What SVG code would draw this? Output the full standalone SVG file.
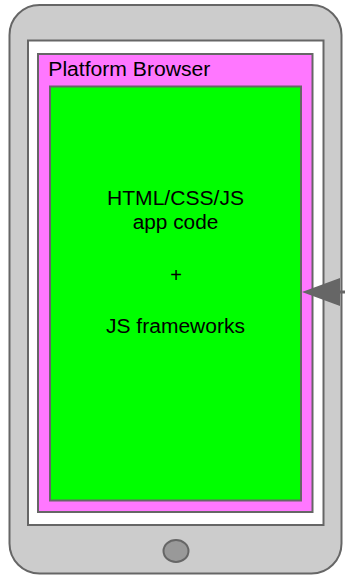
<svg xmlns="http://www.w3.org/2000/svg" width="345" height="576" viewBox="0 0 345 576">
  <style>
    .frame { stroke: #666666; stroke-width: 2; }
    .label { font-family: "Liberation Sans", Arial, sans-serif; font-size: 20px; fill: #000000; }
    .mid { text-anchor: middle; }
  </style>
  <defs>
    <marker id="arrowhead" markerUnits="userSpaceOnUse" viewBox="0 0 38 28" markerWidth="38" markerHeight="28" refX="0" refY="14" orient="auto">
      <path d="M0,0 L38,14 L0,28 z" fill="#666666"/>
    </marker>
  </defs>

  <!-- phone body -->
  <g id="phone">
    <rect class="frame" x="9.5" y="5" width="332" height="568.5" rx="30" ry="30" fill="#cccccc"/>
    <ellipse class="frame" cx="176" cy="551" rx="12.5" ry="11" fill="#999999" stroke-width="1.8"/>
  </g>

  <!-- screen -->
  <g id="screen">
    <rect class="frame" x="28" y="40.5" width="295.5" height="484.5" fill="#ffffff"/>
  </g>

  <!-- browser container -->
  <g id="platform-browser">
    <rect class="frame" x="38" y="54" width="274.5" height="458" fill="#ff77ff"/>
    <text class="label" x="48.3" y="76.3" textLength="162" lengthAdjust="spacingAndGlyphs">Platform Browser</text>
  </g>

  <!-- app content -->
  <g id="app-code">
    <rect class="frame" x="50" y="86.5" width="251" height="414" fill="#00ff00"/>
    <text class="label mid" x="175.5" y="204.5" textLength="137" lengthAdjust="spacingAndGlyphs">HTML/CSS/JS</text>
    <text class="label mid" x="175.5" y="228.5" textLength="85.6" lengthAdjust="spacingAndGlyphs">app code</text>
    <text class="label mid" x="176" y="282">+</text>
    <text class="label mid" x="175.5" y="332.7" textLength="139" lengthAdjust="spacingAndGlyphs">JS frameworks</text>
  </g>

  <!-- connectors -->
  <g id="connectors">
    <path d="M347,292 L340,292" stroke="#666666" stroke-width="3" fill="none" marker-end="url(#arrowhead)"/>
  </g>
</svg>
